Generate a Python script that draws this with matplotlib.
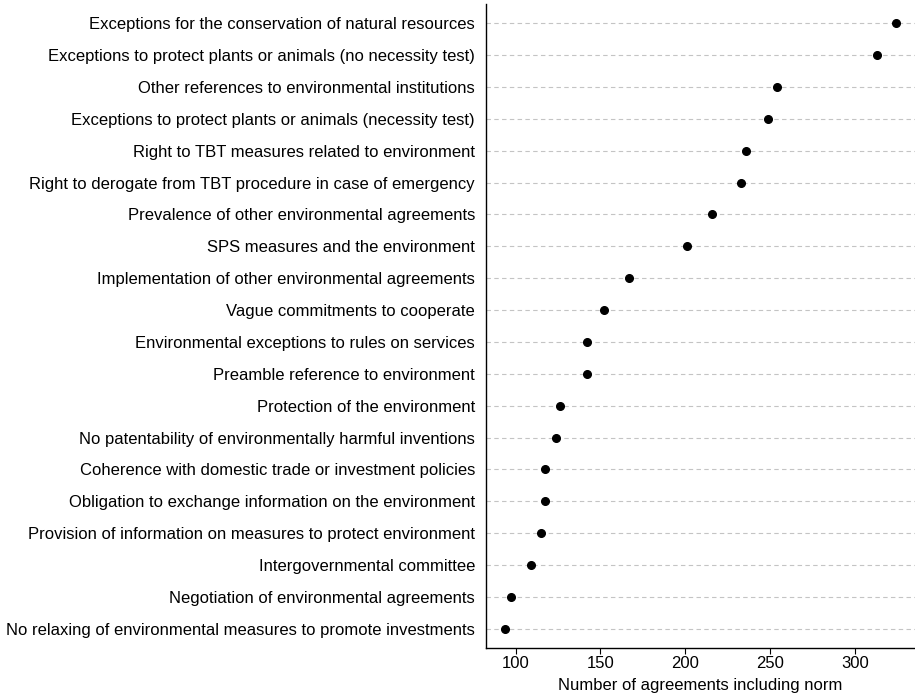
import matplotlib
matplotlib.use("Agg")
import matplotlib.pyplot as plt

plt.rcParams['font.family'] = ['Liberation Sans', 'DejaVu Sans']

categories = [
    "Exceptions for the conservation of natural resources",
    "Exceptions to protect plants or animals (no necessity test)",
    "Other references to environmental institutions",
    "Exceptions to protect plants or animals (necessity test)",
    "Right to TBT measures related to environment",
    "Right to derogate from TBT procedure in case of emergency",
    "Prevalence of other environmental agreements",
    "SPS measures and the environment",
    "Implementation of other environmental agreements",
    "Vague commitments to cooperate",
    "Environmental exceptions to rules on services",
    "Preamble reference to environment",
    "Protection of the environment",
    "No patentability of environmentally harmful inventions",
    "Coherence with domestic trade or investment policies",
    "Obligation to exchange information on the environment",
    "Provision of information on measures to protect environment",
    "Intergovernmental committee",
    "Negotiation of environmental agreements",
    "No relaxing of environmental measures to promote investments",
]
values = [324, 313, 254, 249, 236, 233, 216, 201, 167, 152, 142, 142,
          126, 124, 117, 117, 115, 109, 97, 94]
x_ticks = [100, 150, 200, 250, 300]
x_label = "Number of agreements including norm"

n = len(categories)
ypos = [n - i for i in range(n)]

fig = plt.figure(figsize=(9.15, 7.0), dpi=100)
ax = fig.add_axes([486 / 915, 1 - 648 / 700, 1 - 486 / 915, (648 - 4) / 700])

for y in ypos:
    ax.axhline(y, color='#c4c4c4', linestyle=(0, (4, 3)), linewidth=0.8, zorder=1)

ax.plot(values, ypos, 'o', color='black', markersize=5.5, zorder=3)

rng = max(values) - min(values)
ax.set_xlim(min(values) - 0.05 * rng, max(values) + 0.05 * rng)
ax.set_ylim(0.4, n + 0.6)
ax.set_yticks(ypos)
ax.set_yticklabels(categories, fontsize=12, color='black')
ax.set_xticks(x_ticks)
ax.set_xticklabels([str(t) for t in x_ticks], fontsize=12, color='black')
ax.tick_params(axis='y', length=0, pad=8)
ax.tick_params(axis='x', length=4, width=0.8, pad=2)
ax.set_xlabel(x_label, fontsize=12, labelpad=5)

for s in ['top', 'right']:
    ax.spines[s].set_visible(False)
for s in ['left', 'bottom']:
    ax.spines[s].set_linewidth(1.0)
    ax.spines[s].set_color('black')

fig.savefig("out.png", dpi=100)
